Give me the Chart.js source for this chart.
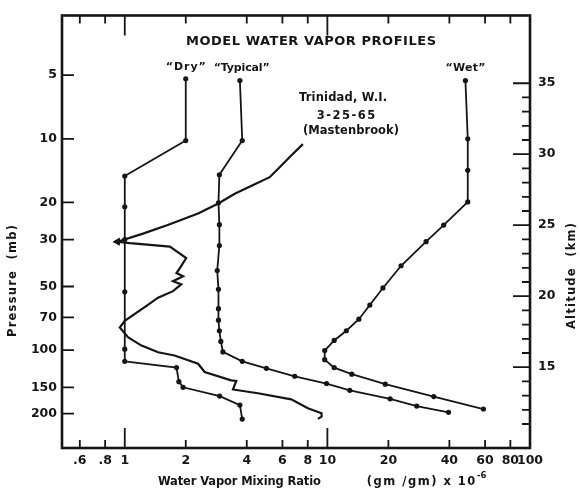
<!DOCTYPE html>
<html>
<head>
<meta charset="utf-8">
<script src="https://cdn.jsdelivr.net/npm/chart.js@4.4.1/dist/chart.umd.min.js"></script>
<style>
  html, body { margin: 0; padding: 0; background: #fff; }
  canvas { display: block; }
</style>
</head>
<body>
<canvas id="chart" width="580" height="494"></canvas>
<script>
/* Model water vapor profiles — mixing ratio (x, log) vs pressure (y, log, reversed) */

// "Dry" model
const DRY_X = [2, 2, 1, 1, 1, 1, 1, 1, 1.8, 1.85, 1.94, 2.94, 3.7, 3.8];
const DRY_P = [5.2, 10.2, 15, 21, 30, 53, 99, 113, 121, 141, 150, 165, 182, 212];

// "Typical" model
const TYP_X = [3.7, 3.8, 2.93, 2.9, 2.93, 2.93, 2.86, 2.9, 2.9, 2.9, 2.93, 2.98, 3.05, 3.8, 5.0, 6.9, 9.9, 12.9, 20.4, 27.6, 39.6];
const TYP_P = [5.3, 10.2, 14.8, 20.1, 25.5, 32, 42, 51.6, 63.7, 72.2, 81, 91, 102, 113, 122, 133, 144, 155, 170, 184, 197];

// "Wet" model
const WET_X = [48, 49.3, 49.3, 49.3, 37.5, 30.7, 23.1, 18.8, 16.2, 14.3, 12.4, 10.8, 9.7, 9.7, 10.8, 13.2, 19.3, 33.5, 58.9];
const WET_P = [5.3, 10, 14.1, 19.9, 25.6, 30.7, 39.9, 50.8, 61.2, 71.4, 81, 90, 100.5, 111, 121, 130, 145, 166, 190];

// Trinidad, W.I. 3-25-65 sounding (Mastenbrook)
const TRIN_X = [7.57, 6.63, 5.7, 5.19, 4.38, 3.49, 2.88, 2.3, 1.63, 1.23, 0.92, 1.06, 1.67, 2.01, 1.87, 1.8, 1.94, 1.73, 1.9, 1.73,
                1.46, 1.28, 1.0, 0.945, 1.04, 1.21, 1.46, 1.76, 2.3, 2.48, 3.35, 3.55, 3.42, 4.54, 6.63, 8.01, 9.36, 9.36, 8.98];
const TRIN_P = [10.6, 12, 13.9, 15.2, 16.4, 18.2, 20.3, 22.6, 25.6, 28.1, 30.7, 31.2, 32.4, 36.7, 40.9, 43.2, 44.7, 47.2, 48.9, 52.6,
                56.5, 61.8, 72.7, 78.2, 87.1, 95.2, 102.4, 106, 116, 127, 139, 140, 153.6, 160, 171, 188.5, 199, 206.5, 211.6];
const TRIN_ARROW = 10;   // index of the arrow head at 30 mb

const X_TICKS = [0.6, 0.8, 1, 2, 4, 6, 8, 10, 20, 40, 60, 80, 100];
const X_LABELS = ['.6', '.8', '1', '2', '4', '6', '8', '10', '20', '40', '60', '80', '100'];
const X_LONG = [1, 10];
const P_TICKS = [5, 10, 20, 30, 50, 70, 100, 150, 200];
const KM_TICKS = [15, 20, 25, 30, 35];
const KM_MINOR = [11, 12, 13, 14, 16, 17, 18, 19, 21, 22, 23, 24, 26, 27, 28, 29, 31, 32, 33, 34];

const INK = '#151515';
const FONT = "'DejaVu Sans', sans-serif";

const pts = (xs, ps) => xs.map((x, i) => ({ x, y: ps[i] }));

const profile = (xs, ps, extra) => Object.assign({
    data: pts(xs, ps),
    showLine: true,
    borderColor: INK,
    borderWidth: 1.8,
    pointRadius: 2.6,
    pointBackgroundColor: INK,
    pointBorderWidth: 0,
    tension: 0,
}, extra);

// fit a label to a given width by adjusting letter spacing a little
function spread(ctx, text, cx, cy, width) {
    ctx.letterSpacing = '0px';
    const w = ctx.measureText(text).width;
    const ls = Math.max(-0.3, Math.min(1.5, (width - w) / Math.max(1, text.length - 1)));
    ctx.letterSpacing = ls + 'px';
    ctx.fillText(text, cx + ls / 2, cy);
    const out = ctx.measureText(text).width;
    ctx.letterSpacing = '0px';
    return out;
}

const frame = {
    id: 'frame',
    afterDraw(chart) {
        const { ctx, chartArea: a, scales } = chart;
        const xs = scales.x, ys = scales.y, ks = scales.km;
        ctx.save();
        ctx.strokeStyle = INK;
        ctx.lineWidth = 1.8;
        ctx.beginPath();
        X_TICKS.forEach(v => {
            const px = xs.getPixelForValue(v);
            const len = X_LONG.includes(v) ? 20 : 8;
            ctx.moveTo(px, a.bottom); ctx.lineTo(px, a.bottom - len);
            ctx.moveTo(px, a.top); ctx.lineTo(px, a.top + len);
        });
        P_TICKS.forEach(v => {
            const py = ys.getPixelForValue(v);
            ctx.moveTo(a.left, py); ctx.lineTo(a.left + 12, py);
        });
        KM_TICKS.forEach(v => {
            const py = ks.getPixelForValue(v);
            ctx.moveTo(a.right, py); ctx.lineTo(a.right - 17, py);
        });
        KM_MINOR.forEach(v => {
            const py = ks.getPixelForValue(v);
            ctx.moveTo(a.right, py); ctx.lineTo(a.right - 8, py);
        });
        ctx.stroke();

        ctx.lineWidth = 2.6;
        ctx.strokeRect(a.left, a.top, a.width, a.height);

        // annotations
        ctx.fillStyle = INK;
        ctx.textAlign = 'center';
        ctx.textBaseline = 'middle';
        ctx.font = 'bold 13px ' + FONT;
        spread(ctx, 'MODEL WATER VAPOR PROFILES', 311, 42, 250);

        ctx.font = 'bold 11px ' + FONT;
        const tag = (text, xv, pv, w) =>
            spread(ctx, text, xs.getPixelForValue(xv), ys.getPixelForValue(pv) - 12, w);
        tag('\u201CDry\u201D', DRY_X[0], DRY_P[0], 40);
        tag('\u201CTypical\u201D', TYP_X[0] * 1.02, TYP_P[0], 56);
        tag('\u201CWet\u201D', WET_X[0], WET_P[0], 40);

        ctx.font = 'bold 11.5px ' + FONT;
        spread(ctx, 'Trinidad, W.I.', 343, 98, 88);
        spread(ctx, '3-25-65', 346, 116, 64);
        spread(ctx, '(Mastenbrook)', 351, 131, 96);

        // axis titles
        ctx.font = 'bold 11.5px ' + FONT;
        ctx.textAlign = 'left';
        spread(ctx, 'Water Vapor Mixing Ratio', 158, 482, 163);
        const w = spread(ctx, '(gm /gm) x 10', 366, 482, 114);
        ctx.font = 'bold 8.5px ' + FONT;
        ctx.fillText('-6', 366 + w + 1, 476);

        ctx.font = 'bold 11.5px ' + FONT;
        ctx.textAlign = 'center';
        ctx.save();
        ctx.translate(13, 281);
        ctx.rotate(-Math.PI / 2);
        spread(ctx, 'Pressure  (mb)', 0, 0, 112);
        ctx.restore();
        ctx.save();
        ctx.translate(572, 276);
        ctx.rotate(-Math.PI / 2);
        spread(ctx, 'Altitude  (km)', 0, 0, 106);
        ctx.restore();

        ctx.restore();
    }
};

const tickFont = { family: FONT, size: 12.5, weight: 'bold' };

new Chart(document.getElementById('chart').getContext('2d'), {
    type: 'scatter',
    data: {
        datasets: [
            profile(DRY_X, DRY_P, {
                segment: {
                    borderDash: c => (c.p0.parsed.x === 1 && c.p1.parsed.x === 1) ? [7, 3] : undefined,
                },
            }),
            profile(TYP_X, TYP_P),
            profile(WET_X, WET_P),
            profile(TRIN_X, TRIN_P, { pointRadius: 0, borderWidth: 2.2 }),
            {
                data: [{ x: TRIN_X[TRIN_ARROW], y: TRIN_P[TRIN_ARROW] }],
                pointStyle: 'triangle',
                rotation: -90,
                pointRadius: 4,
                pointBackgroundColor: INK,
                pointBorderColor: INK,
                showLine: false,
            },
        ],
    },
    options: {
        responsive: false,
        animation: false,
        layout: { padding: { top: 12, left: 0, right: 0, bottom: 0 } },
        plugins: { legend: { display: false }, tooltip: { enabled: false } },
        scales: {
            x: {
                type: 'logarithmic',
                position: 'bottom',
                min: 0.49,
                max: 100,
                grid: { display: false, drawTicks: false },
                border: { display: false },
                afterBuildTicks: s => { s.ticks = X_TICKS.map(v => ({ value: v })); },
                afterFit: s => { s.height = 46; },
                ticks: {
                    color: INK, font: tickFont, padding: 5, autoSkip: false, maxRotation: 0,
                    callback: v => X_LABELS[X_TICKS.indexOf(v)],
                },
            },
            y: {
                type: 'logarithmic',
                position: 'left',
                reverse: true,
                min: 2.61,
                max: 290.6,
                grid: { display: false, drawTicks: false },
                border: { display: false },
                afterBuildTicks: s => { s.ticks = P_TICKS.map(v => ({ value: v })); },
                afterFit: s => { s.width = 62; },
                ticks: { color: INK, font: tickFont, padding: 5, autoSkip: false, callback: v => String(v) },
            },
            km: {
                type: 'linear',
                position: 'right',
                min: 9.31,
                max: 39.77,
                grid: { display: false, drawTicks: false },
                border: { display: false },
                afterBuildTicks: s => { s.ticks = KM_TICKS.map(v => ({ value: v })); },
                afterFit: s => { s.width = 50; },
                ticks: { color: INK, font: tickFont, padding: 8, autoSkip: false, callback: v => String(v) },
            },
        },
    },
    plugins: [frame],
});
</script>
</body>
</html>
